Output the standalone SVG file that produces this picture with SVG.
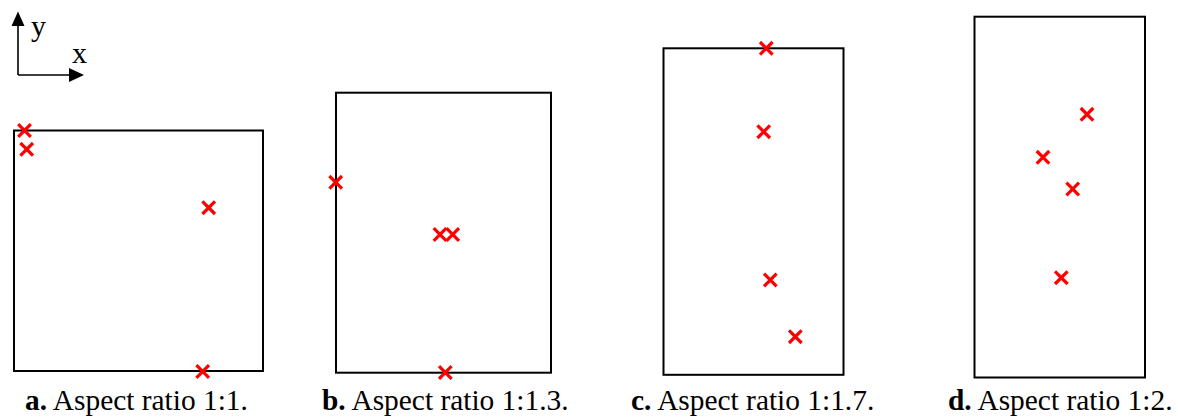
<svg xmlns="http://www.w3.org/2000/svg" xmlns:xlink="http://www.w3.org/1999/xlink" width="1178" height="417" viewBox="0 0 1178 417">
<style>
.box{fill:none;stroke:#000;stroke-width:2}
.cap{font-family:"Liberation Serif","Times New Roman",serif;font-size:29.4px;fill:#000}
.ax{font-family:"Liberation Serif","Times New Roman",serif;font-size:30px;fill:#000}
.axl{stroke:#000;stroke-width:1.6;fill:none}
</style>
<defs>
<g id="xm"><path d="M-6.3,-6.3 L6.3,6.3 M-6.3,6.3 L6.3,-6.3" stroke="#ff0000" stroke-width="3.2" fill="none"/></g>
</defs>
<rect width="1178" height="417" fill="#fff"/>
<g id="axes">
<path class="axl" d="M18,75 V25 M18,75 H70"/>
<polygon points="18,11.5 11.5,26 24.5,26" fill="#000"/>
<polygon points="84,75 69,68 69,82" fill="#000"/>
<text class="ax" x="31" y="36">y</text>
<text class="ax" x="72" y="63">x</text>
</g>
<g id="panel-a">
<rect class="box" x="14" y="130.5" width="249" height="240.5"/>
<use xlink:href="#xm" x="24.5" y="130.5"/>
<use xlink:href="#xm" x="26.7" y="149.3"/>
<use xlink:href="#xm" x="208.7" y="207.7"/>
<use xlink:href="#xm" x="202.7" y="371.5"/>
<text class="cap" x="25" y="410"><tspan font-weight="bold">a.</tspan> Aspect ratio 1:1.</text>
</g>
<g id="panel-b">
<rect class="box" x="336" y="92.7" width="215" height="280"/>
<use xlink:href="#xm" x="335.7" y="182.3"/>
<use xlink:href="#xm" x="440" y="234.5"/>
<use xlink:href="#xm" x="452.7" y="234.5"/>
<use xlink:href="#xm" x="445.3" y="372.5"/>
<text class="cap" x="322" y="410"><tspan font-weight="bold">b.</tspan> Aspect ratio 1:1.3.</text>
</g>
<g id="panel-c">
<rect class="box" x="663.5" y="48.3" width="180" height="326.5"/>
<use xlink:href="#xm" x="766.3" y="48.3"/>
<use xlink:href="#xm" x="763.7" y="131.7"/>
<use xlink:href="#xm" x="770.3" y="280"/>
<use xlink:href="#xm" x="795.3" y="336.7"/>
<text class="cap" x="631" y="410"><tspan font-weight="bold">c.</tspan> Aspect ratio 1:1.7.</text>
</g>
<g id="panel-d">
<rect class="box" x="974.5" y="16.7" width="170.5" height="360.8"/>
<use xlink:href="#xm" x="1087" y="114.3"/>
<use xlink:href="#xm" x="1043" y="157.3"/>
<use xlink:href="#xm" x="1072.7" y="189"/>
<use xlink:href="#xm" x="1061.3" y="277.7"/>
<text class="cap" x="948" y="410"><tspan font-weight="bold">d.</tspan> Aspect ratio 1:2.</text>
</g>
</svg>
